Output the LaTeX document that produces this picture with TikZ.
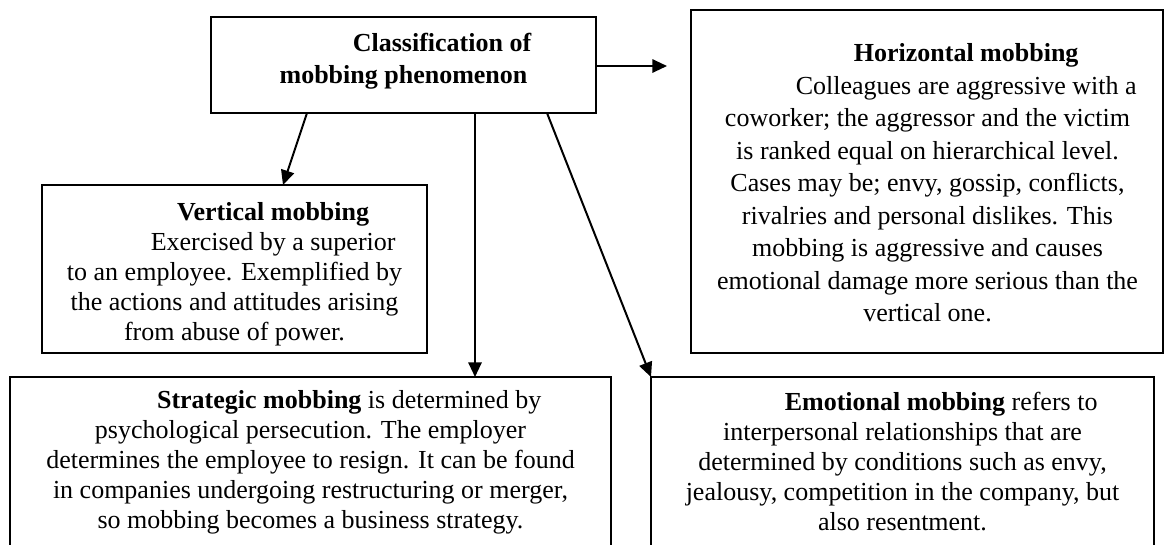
\documentclass[tikz,border=0pt]{standalone}
\usepackage{fontspec}
\setmainfont{Liberation Serif}
\usetikzlibrary{arrows.meta}
\tikzset{every picture/.style={line width=0.75pt}}
\newcommand{\ind}{\hspace*{58pt}}

\begin{document}
\begin{tikzpicture}[x=0.75pt,y=0.75pt,yscale=-1,xscale=1,
  box/.style={draw,line width=1.5pt,inner sep=0pt,outer sep=0pt},
  txt/.style={align=center,inner sep=0pt,font=\fontsize{19.5}{22.5}\selectfont},
  arr/.style={line width=1.5pt,-{Triangle[length=11pt,width=10pt]}}]

\useasboundingbox (0,0) rectangle (1165,544);

% boxes
\node [box, minimum width=288.75pt, minimum height=72pt] (cls) at (403.5,65) {};
\node [box, minimum width=354pt, minimum height=257.25pt] (hor) at (927,181.5) {};
\node [box, minimum width=288.75pt, minimum height=126pt] (ver) at (234.5,269) {};
\node [box, minimum width=450.75pt, minimum height=142.5pt] (str) at (310.5,472) {};
\node [box, minimum width=377.25pt, minimum height=142.5pt] (emo) at (902.5,472) {};

% texts
\node [txt, font=\fontsize{19.5}{24}\selectfont] (clsT) at (403.5,61) {\ind\textbf{Classification of}\\\textbf{mobbing phenomenon}};
\node [txt, font=\fontsize{19.5}{24.4}\selectfont] (horT) at (927.5,183) {\ind\textbf{Horizontal mobbing}\\
  \ind Colleagues are aggressive with a\\
  coworker; the aggressor and the victim\\
  is ranked equal on hierarchical level.\\
  Cases may be; envy, gossip, conflicts,\\
  rivalries and personal dislikes. This\\
  mobbing is aggressive and causes\\
  emotional damage more serious than the\\
  vertical one.};
\node [txt] (verT) at (234.5,274) {\ind\textbf{Vertical mobbing}\\
  \ind Exercised by a superior\\
  to an employee. Exemplified by\\
  the actions and attitudes arising\\
  from abuse of power.};
\node [txt] (strT) at (310.5,462) {\ind\textbf{Strategic mobbing} is determined by\\
  psychological persecution. The employer\\
  determines the employee to resign. It can be found\\
  in companies undergoing restructuring or merger,\\
  so mobbing becomes a business strategy.};
\node [txt] (emoT) at (902.5,462) {\ind\textbf{Emotional mobbing} refers to\\
  interpersonal relationships that are\\
  determined by conditions such as envy,\\
  jealousy, competition in the company, but\\
  also resentment.};

% arrow ends
\coordinate (c1) at (307,113);
\coordinate (c2) at (475,113);
\coordinate (c3) at (547,113);
\coordinate (c4) at (596,66);
\coordinate (t1) at (283,185);
\coordinate (t2) at (475,377);
\coordinate (t4) at (667,66);

\draw [arr] (c1) -- (t1);
\draw [arr] (c2) -- (t2);
\draw [arr] (c3) -- (emo.north west);
\draw [arr] (c4) -- (t4);

\end{tikzpicture}
\end{document}
